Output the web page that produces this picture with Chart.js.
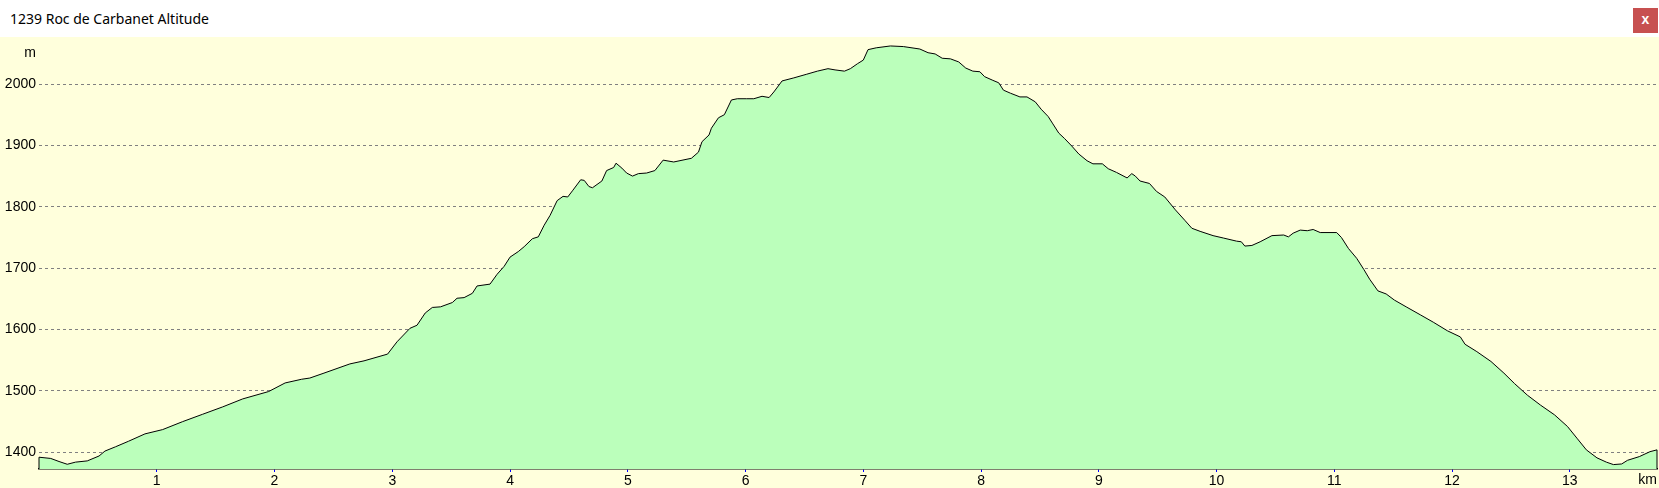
<!DOCTYPE html>
<html><head><meta charset="utf-8">
<script src="https://cdn.jsdelivr.net/npm/chart.js@4"></script>
<style>
html,body{margin:0;padding:0;background:#fff;overflow:hidden;}
#hdr{position:relative;width:1659px;height:37px;background:#fff;}
#ttl{position:absolute;left:10px;top:0;line-height:37px;font-size:14px;font-family:"Noto Sans",sans-serif;color:#000;white-space:nowrap;}
#cls{position:absolute;left:1633px;top:8px;width:25px;height:25px;background:#c75050;color:#fff;font:bold 14px "Liberation Sans",sans-serif;text-align:center;line-height:23px;}
#wrap{width:1659px;height:451px;background:#ffffdc;}
canvas{display:block;}
</style></head><body>
<div id="hdr"><div id="ttl">1239 Roc de Carbanet Altitude</div><div id="cls">x</div></div>
<div id="wrap"><canvas id="c" width="1659" height="451"></canvas></div>
<script>
const distanceKm = [0.00,0.10,0.17,0.24,0.31,0.41,0.51,0.56,0.65,0.76,0.90,1.05,1.22,1.39,1.56,1.73,1.95,2.09,2.23,2.30,2.42,2.64,2.76,2.96,3.04,3.15,3.21,3.28,3.34,3.41,3.51,3.55,3.61,3.68,3.72,3.83,3.89,3.95,4.00,4.07,4.12,4.19,4.24,4.29,4.34,4.40,4.45,4.49,4.53,4.60,4.63,4.67,4.70,4.78,4.82,4.88,4.90,4.95,4.99,5.04,5.09,5.16,5.23,5.30,5.39,5.54,5.60,5.63,5.69,5.71,5.77,5.82,5.88,5.93,6.01,6.07,6.14,6.20,6.24,6.31,6.41,6.52,6.61,6.70,6.76,6.84,6.89,6.95,7.00,7.04,7.11,7.23,7.34,7.48,7.55,7.61,7.67,7.74,7.81,7.87,7.93,7.99,8.03,8.10,8.15,8.19,8.25,8.33,8.39,8.46,8.51,8.57,8.61,8.66,8.71,8.77,8.83,8.90,8.95,9.03,9.08,9.15,9.24,9.28,9.31,9.35,9.43,9.49,9.56,9.65,9.73,9.79,9.86,9.97,10.06,10.17,10.21,10.24,10.30,10.37,10.47,10.57,10.61,10.65,10.71,10.77,10.82,10.88,11.02,11.06,11.12,11.19,11.25,11.30,11.37,11.44,11.51,11.61,11.73,11.84,11.96,12.07,12.11,12.21,12.33,12.44,12.53,12.64,12.75,12.87,12.98,13.06,13.14,13.23,13.31,13.37,13.44,13.49,13.59,13.68,13.74];
const altitudeM = [1392,1390,1385,1380.5,1384,1386,1394,1402,1409,1418,1430,1437,1450,1462,1474,1487,1499,1513,1519,1521,1529,1544,1549,1560,1580,1602,1607,1627,1636,1637,1644,1651,1652,1659,1671,1674,1690,1703,1718,1727,1735,1748,1751,1770,1786,1810,1817,1816,1826,1844,1843,1833,1831,1842,1859,1864,1871,1863,1855,1850,1854,1855,1859,1876,1873,1879,1889,1906,1917,1928,1945,1950,1974,1976,1976,1976,1980,1978,1987,2005,2010,2016,2021,2025,2023,2021,2025,2033,2039,2056,2059,2062,2061,2057,2051,2049,2042,2041,2036,2026,2021,2020,2012,2006,2002,1990,1985,1979,1979,1971,1959,1947,1935,1920,1911,1899,1886,1875,1870,1870,1862,1856,1847,1854,1850,1842,1838,1825,1816,1795,1778,1765,1760,1753,1749,1744,1743,1736,1737,1743,1753,1754,1751,1757,1762,1761,1763,1758,1758,1750,1732,1716,1698,1682,1663,1658,1648,1637,1624,1612,1598,1588,1576,1564,1548,1529,1512,1493,1477,1461,1442,1423,1404,1391,1384,1380,1381,1387,1393,1401,1404];
const yTickValues = [1400,1500,1600,1700,1800,1900,2000];
const xTickValues = [1,2,3,4,5,6,7,8,9,10,11,12,13];
const xRange = [0, 13.74];
const yRange = [1372.8, 2076.6];
const yUnit = 'm';
const xUnit = 'km';

const points = distanceKm.map((d,i)=>({x:d, y:altitudeM[i]}));
const FONT = {family:'"Liberation Sans", Arial, sans-serif', size:14};

const extras = {
  id:'extras',
  afterDatasetsDraw(chart){
    const pts = chart.getDatasetMeta(0).data;
    const ctx = chart.ctx, b = chart.chartArea.bottom;
    ctx.save();
    ctx.strokeStyle='#000'; ctx.lineWidth=1;
    [pts[0], pts[pts.length-1]].forEach(p=>{
      ctx.beginPath(); ctx.moveTo(p.x, p.y); ctx.lineTo(p.x, b); ctx.stroke();
    });
    ctx.restore();
  },
  afterDraw(chart){
    const ctx = chart.ctx, ys = chart.scales.y, xs = chart.scales.x;
    ctx.save();
    ctx.fillStyle='#000';
    ctx.font = '14px ' + FONT.family;
    ctx.textAlign='right'; ctx.textBaseline='middle';
    ctx.fillText(yUnit, ys.right-3, ys.top+16);
    ctx.fillText(xUnit, xs.right, xs.top+11);
    ctx.restore();
  }
};

new Chart(document.getElementById('c'), {
  type:'line',
  data:{datasets:[{
    data:points,
    borderColor:'#000', borderWidth:1,
    backgroundColor:'#bbffbb',
    fill:'start', pointRadius:0, tension:0
  }]},
  options:{
    responsive:false, animation:false, devicePixelRatio:1,
    parsing:false,
    layout:{padding:{left:0,right:2,top:0,bottom:0}},
    plugins:{legend:{display:false}, tooltip:{enabled:false}, title:{display:false}},
    scales:{
      x:{
        type:'linear', min:xRange[0], max:xRange[1], z:1,
        afterBuildTicks:s=>{s.ticks = xTickValues.map(v=>({value:v}));},
        afterFit:s=>{s.height=19; s.paddingLeft=0; s.paddingRight=0;},
        grid:{display:true, drawOnChartArea:false, drawTicks:true, tickLength:3, color:'#0000ff', lineWidth:1},
        border:{display:true, color:'#000', width:1.5},
        ticks:{font:FONT, color:'#000', padding:1, maxRotation:0, autoSkip:false, callback:v=>String(v)}
      },
      y:{
        type:'linear', min:yRange[0], max:yRange[1], z:1,
        afterBuildTicks:s=>{s.ticks = yTickValues.map(v=>({value:v}));},
        afterFit:s=>{s.width=39; s.paddingTop=0; s.paddingBottom=0;},
        grid:{display:true, drawTicks:false, color:'#808080', lineWidth:1},
        border:{display:false, dash:[3,3]},
        ticks:{font:FONT, color:'#000', padding:3, autoSkip:false, callback:v=>String(v)}
      }
    }
  },
  plugins:[extras]
});
</script>
</body></html>
